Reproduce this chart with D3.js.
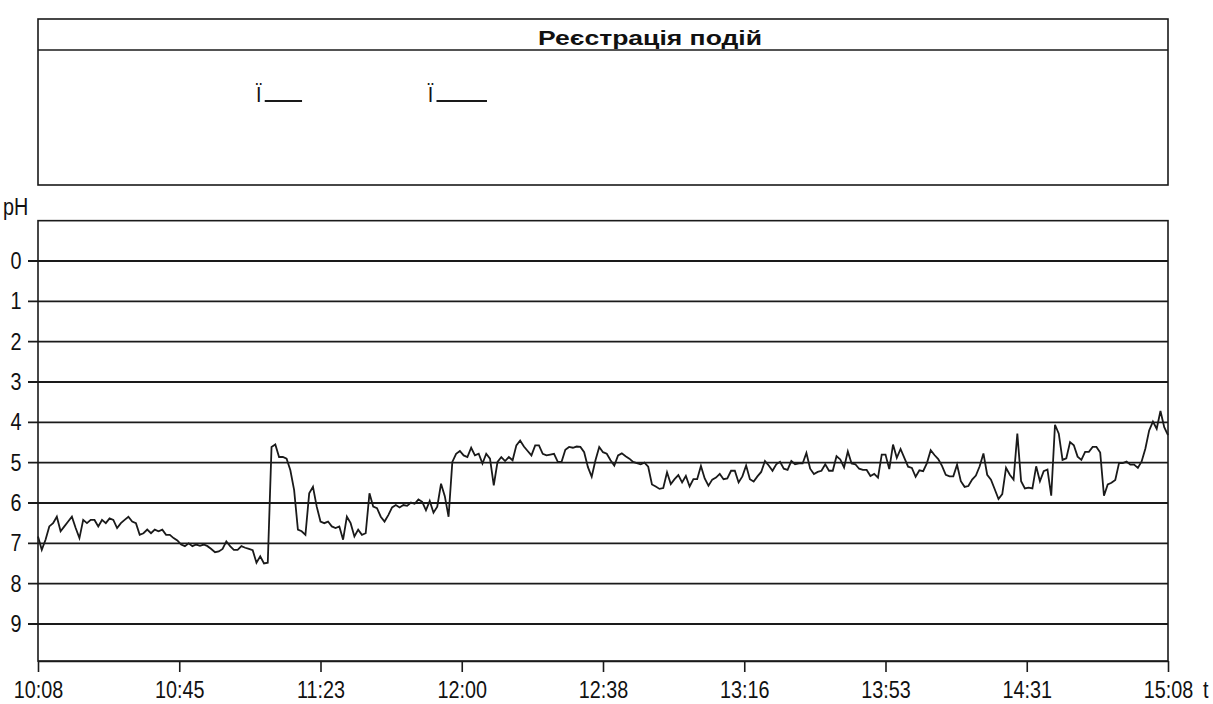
<!DOCTYPE html>
<html>
<head>
<meta charset="utf-8">
<script src="https://cdn.jsdelivr.net/npm/d3@7"></script>
<style>
  html, body { margin: 0; padding: 0; background: #fff; }
  svg { display: block; }
  text { font-family: "Liberation Sans", Arial, sans-serif; fill: #111; }
</style>
</head>
<body>
<svg id="chart" width="1213" height="704"></svg>
<script>
// pH readings, one per minute from 10:08 to 15:08
const phValues = [
  6.83, 7.16, 6.91, 6.58, 6.50, 6.34, 6.70, 6.58, 6.46, 6.34,
  6.62, 6.87, 6.42, 6.50, 6.42, 6.42, 6.58, 6.42, 6.50, 6.38,
  6.42, 6.62, 6.50, 6.42, 6.34, 6.46, 6.50, 6.79, 6.75, 6.66,
  6.75, 6.66, 6.70, 6.66, 6.79, 6.79, 6.87, 6.93, 7.03, 7.07,
  7.00, 7.07, 7.03, 7.06, 7.03, 7.07, 7.14, 7.22, 7.20, 7.14,
  6.95, 7.07, 7.16, 7.16, 7.07, 7.11, 7.14, 7.17, 7.48, 7.32,
  7.50, 7.48, 4.61, 4.55, 4.86, 4.86, 4.90, 5.19, 5.68, 6.66,
  6.70, 6.79, 5.76, 5.60, 6.09, 6.46, 6.50, 6.46, 6.58, 6.62,
  6.58, 6.91, 6.34, 6.50, 6.83, 6.66, 6.79, 6.75, 5.76, 6.09,
  6.13, 6.34, 6.46, 6.30, 6.11, 6.05, 6.11, 6.05, 6.07, 5.99,
  6.02, 5.91, 5.97, 6.18, 5.95, 6.24, 6.09, 5.52, 5.83, 6.34,
  4.98, 4.78, 4.71, 4.82, 4.86, 4.63, 4.82, 4.78, 5.02, 4.78,
  4.90, 5.56, 4.98, 4.86, 4.96, 4.86, 4.94, 4.57, 4.45, 4.60,
  4.71, 4.82, 4.57, 4.57, 4.78, 4.82, 4.80, 4.78, 4.98, 4.98,
  4.68, 4.61, 4.63, 4.60, 4.61, 4.74, 5.11, 5.35, 4.94, 4.61,
  4.74, 4.78, 4.94, 5.07, 4.82, 4.77, 4.84, 4.90, 4.98, 5.01,
  5.04, 5.00, 5.10, 5.54, 5.59, 5.65, 5.63, 5.24, 5.53, 5.41,
  5.31, 5.49, 5.33, 5.59, 5.41, 5.41, 5.08, 5.39, 5.57, 5.42,
  5.37, 5.28, 5.41, 5.39, 5.20, 5.20, 5.49, 5.34, 5.07, 5.41,
  5.47, 5.34, 5.23, 4.96, 5.07, 5.20, 5.04, 4.98, 5.15, 5.18,
  4.96, 5.04, 5.02, 5.02, 4.76, 5.15, 5.28, 5.23, 5.20, 5.04,
  5.20, 5.20, 4.84, 4.92, 5.12, 4.72, 5.02, 5.04, 5.15, 5.18,
  5.18, 5.33, 5.28, 5.37, 4.80, 4.80, 5.16, 4.55, 4.88, 4.66,
  4.88, 5.10, 5.13, 5.35, 5.19, 5.21, 5.01, 4.69, 4.81, 4.91,
  5.08, 5.30, 5.34, 5.34, 5.05, 5.46, 5.60, 5.58, 5.42, 5.32,
  5.09, 4.77, 5.30, 5.42, 5.66, 5.90, 5.78, 5.13, 5.30, 5.42,
  4.28, 5.46, 5.64, 5.62, 5.64, 5.09, 5.46, 5.21, 5.17, 5.82,
  4.06, 4.28, 4.93, 4.89, 4.49, 4.57, 4.85, 4.93, 4.73, 4.73,
  4.61, 4.61, 4.75, 5.82, 5.54, 5.50, 5.43, 5.01, 5.01, 4.97,
  5.05, 5.05, 5.13, 4.97, 4.65, 4.20, 3.98, 4.16, 3.72, 4.12,
  4.32
];
const sampleStepMin = 1;

// axis ticks
const yTicks = [0, 1, 2, 3, 4, 5, 6, 7, 8, 9];
const xTickMinutes = [0, 37.5, 75, 112.5, 150, 187.5, 225, 262.5, 300];
const xTickLabels = ["10:08", "10:45", "11:23", "12:00", "12:38", "13:16", "13:53", "14:31", "15:08"];

// event log: start (minutes after 10:08) and marker length (minutes)
const eventStarts = [58.6, 104.2];
const eventLengths = [11.5, 15];

const titleText = "Реєстрація подій";
const yAxisTitle = "pH";
const xAxisTitle = "t";

const svg = d3.select("#chart");
svg.append("rect").attr("width", 1213).attr("height", 704).attr("fill", "#fff");

const x = d3.scaleLinear().domain([0, 300]).range([38, 1168]);
const y = d3.scaleLinear().domain([0, 9]).range([261, 624]);
const plotTop = y(-1), plotBottom = 661;
const ink = "#1a1a1a";
const fontSize = 23, narrow = 0.86;

// narrow label: position via translate, then squeeze horizontally
function narrowText(parent, tx, ty, str, anchor) {
  return parent.append("text")
    .attr("transform", `translate(${tx},${ty}) scale(${narrow},1)`)
    .attr("text-anchor", anchor || "start")
    .attr("font-size", fontSize)
    .text(str);
}

// ---- event panel ----
const panel = svg.append("g");
panel.append("rect")
  .attr("x", x(0)).attr("y", 19)
  .attr("width", x(300) - x(0)).attr("height", 166)
  .attr("fill", "none").attr("stroke", ink).attr("stroke-width", 1.6);
panel.append("line")
  .attr("x1", x(0)).attr("x2", x(300)).attr("y1", 50).attr("y2", 50)
  .attr("stroke", ink).attr("stroke-width", 1.6);
panel.append("text")
  .attr("x", 538).attr("y", 45)
  .attr("font-size", 21).attr("font-weight", "bold")
  .attr("textLength", 224).attr("lengthAdjust", "spacingAndGlyphs")
  .text(titleText);

const ev = panel.selectAll("g.event").data(eventStarts).join("g").attr("class", "event");
ev.append("text")
  .attr("transform", d => `translate(${x(d)},102) scale(0.9,1)`)
  .attr("text-anchor", "middle")
  .attr("font-size", 22)
  .text("Ї");
ev.append("line")
  .attr("x1", d => x(d) + 6)
  .attr("x2", (d, i) => x(d + eventLengths[i]))
  .attr("y1", 101).attr("y2", 101)
  .attr("stroke", ink).attr("stroke-width", 1.8);

// ---- pH plot ----
const plot = svg.append("g");

// horizontal grid lines with left tick stubs
plot.selectAll("line.grid").data(yTicks).join("line")
  .attr("class", "grid")
  .attr("x1", x(0) - 10).attr("x2", x(300))
  .attr("y1", d => y(d)).attr("y2", d => y(d))
  .attr("stroke", ink).attr("stroke-width", 1.9);

yTicks.forEach(d => narrowText(plot, 16, y(d) + 8, d, "middle"));

// frame: top, left, right, bottom
plot.append("rect")
  .attr("x", x(0)).attr("y", plotTop)
  .attr("width", x(300) - x(0)).attr("height", plotBottom - plotTop)
  .attr("fill", "none").attr("stroke", ink).attr("stroke-width", 1.6);

// bottom time axis
const xAxis = d3.axisBottom(x)
  .tickValues(xTickMinutes)
  .tickFormat((d, i) => xTickLabels[i])
  .tickSize(11).tickSizeOuter(0).tickPadding(10);
const xg = plot.append("g").attr("transform", `translate(0,${plotBottom})`).call(xAxis);
xg.select(".domain").attr("stroke", ink).attr("stroke-width", 1.6);
xg.selectAll(".tick line").attr("stroke", ink).attr("stroke-width", 1.6);
xg.selectAll(".tick text")
  .attr("font-size", fontSize)
  .attr("fill", "#111")
  .attr("transform", `scale(${narrow},1)`)
  .style("font-family", "'Liberation Sans', Arial, sans-serif");

narrowText(plot, 1203, 698, xAxisTitle);
narrowText(plot, 3, 215, yAxisTitle);

// pH trace
const line = d3.line()
  .x((d, i) => x(i * sampleStepMin))
  .y(d => y(d));
plot.append("path")
  .datum(phValues)
  .attr("d", line)
  .attr("fill", "none")
  .attr("stroke", ink)
  .attr("stroke-width", 1.8)
  .attr("stroke-linejoin", "miter");
</script>
</body>
</html>
